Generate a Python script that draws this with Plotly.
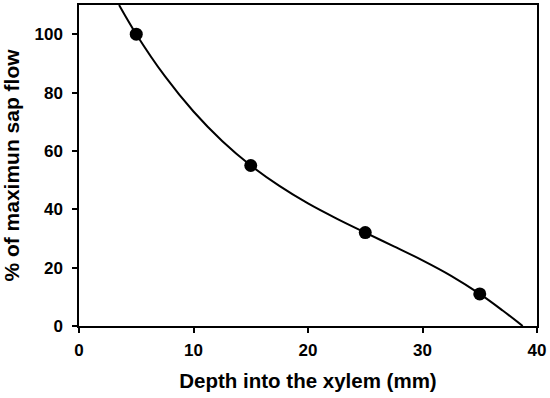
import plotly.graph_objects as go

# Measured points
depth_mm = [5, 15, 25, 35]
sap_flow_pct = [100, 55, 32, 11]

# Fitted curve
curve_x = [3.5, 5, 7.5, 10, 12.5, 15, 17.5, 20, 22.5, 25, 27.5, 30, 32.5, 35, 37, 38.75]
curve_y = [110, 100, 85.6, 73.5, 63.4, 55, 48.0, 42.0, 36.8, 32, 27.3, 22.5, 17.2, 11, 5.3, 0]

x_ticks = [0, 10, 20, 30, 40]
y_ticks = [0, 20, 40, 60, 80, 100]

font_family = "Liberation Sans, Arial, sans-serif"

fig = go.Figure()
fig.add_trace(go.Scatter(x=curve_x, y=curve_y, mode="lines",
                         line=dict(color="black", width=2, shape="spline"),
                         hoverinfo="skip", showlegend=False))
fig.add_trace(go.Scatter(x=depth_mm, y=sap_flow_pct, mode="markers",
                         marker=dict(color="black", size=13),
                         showlegend=False))

axis_common = dict(showgrid=False, zeroline=False, showline=True, linecolor="black",
                   linewidth=1.5, mirror=True, ticks="outside", ticklen=5,
                   tickwidth=1.5, tickcolor="black", automargin=False,
                   tickfont=dict(family=font_family, size=17, color="black", weight="bold"))

fig.update_xaxes(range=[0, 40], tickvals=x_ticks, ticklabelstandoff=3,
                 title=dict(text="<b>Depth into the xylem (mm)</b>",
                            font=dict(family=font_family, size=20.5, color="black"),
                            standoff=14),
                 **axis_common)
fig.update_yaxes(range=[0, 110], tickvals=y_ticks, ticklabelstandoff=6,
                 title=dict(text="<b>% of maximun sap flow</b>",
                            font=dict(family=font_family, size=21, color="black"),
                            standoff=10),
                 **axis_common)

fig.update_layout(width=550, height=398, margin=dict(l=79, r=13, t=5, b=72),
                  plot_bgcolor="white", paper_bgcolor="white",
                  font=dict(family=font_family, color="black"))

fig.write_html("out.html", config={"displayModeBar": False},
               post_script="document.body.style.margin='0px';")
